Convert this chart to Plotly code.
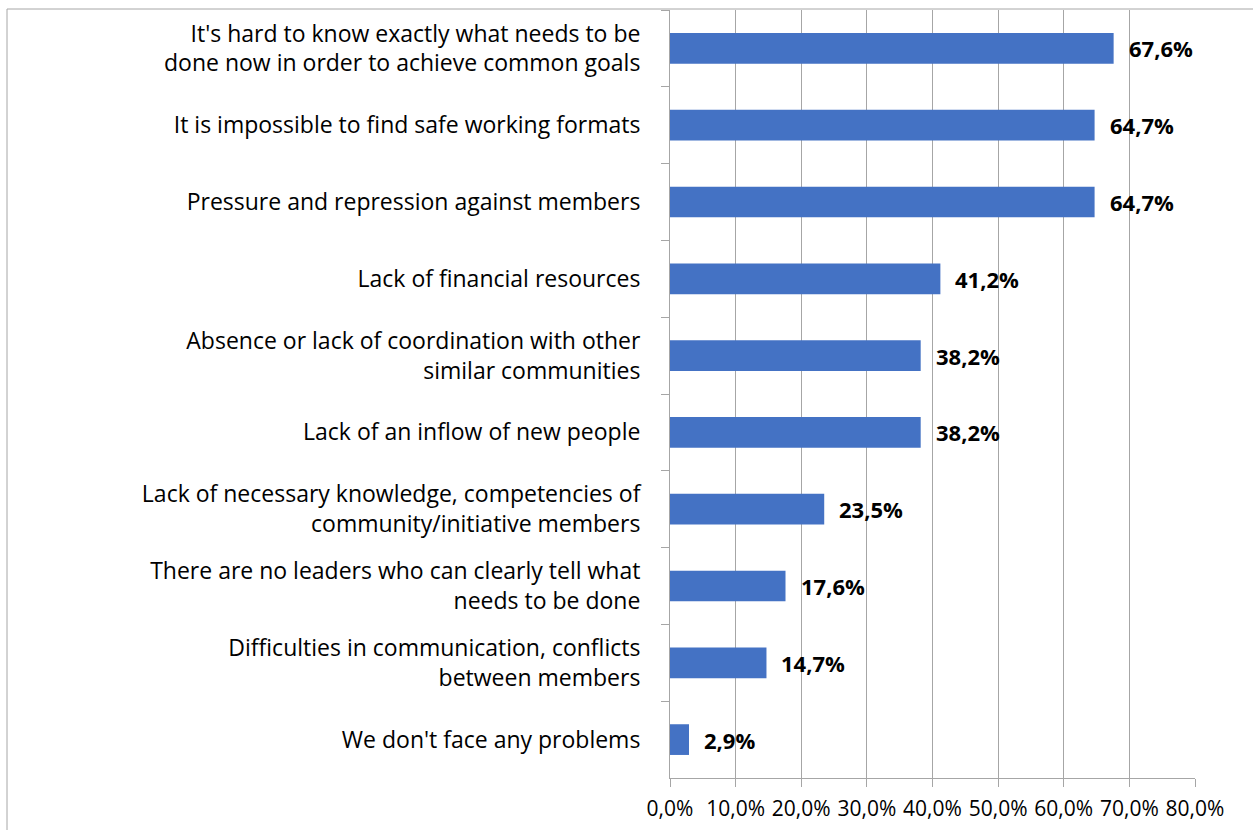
import plotly.graph_objects as go

categories = [
    "It's hard to know exactly what needs to be<br>done now in order to achieve common goals",
    "It is impossible to find safe working formats",
    "Pressure and repression against members",
    "Lack of financial resources",
    "Absence or lack of coordination with other<br>similar communities",
    "Lack of an inflow of new people",
    "Lack of necessary knowledge, competencies of<br>community/initiative members",
    "There are no leaders who can clearly tell what<br>needs to be done",
    "Difficulties in communication, conflicts<br>between members",
    "We don't face any problems",
]
values = [0.676, 0.647, 0.647, 0.412, 0.382, 0.382, 0.235, 0.176, 0.147, 0.029]
value_labels = ["67,6%", "64,7%", "64,7%", "41,2%", "38,2%", "38,2%", "23,5%", "17,6%", "14,7%", "2,9%"]

FONT = "Open Sans"

fig = go.Figure(
    go.Bar(
        x=values,
        y=categories,
        orientation="h",
        marker=dict(color="#4472C4", line=dict(width=0)),
        width=0.4,
        hoverinfo="skip",
    )
)

for v, c, t in zip(values, categories, value_labels):
    fig.add_annotation(
        x=v, y=c, text=f"<b>{t}</b>", showarrow=False,
        xanchor="left", xshift=13, yshift=0,
        font=dict(family=FONT, size=22, color="#000000"),
    )

# outer chart frame
fig.add_shape(
    type="rect", xref="paper", yref="paper",
    x0=-670 / 525 + 7 / 525, x1=1.5, y0=-0.5, y1=1 + 1 / 768,
    line=dict(color="#A6A6A6", width=1), fillcolor="rgba(0,0,0,0)", layer="below",
)

fig.update_layout(
    width=1253, height=830,
    margin=dict(l=670, r=58, t=10, b=52, autoexpand=False),
    paper_bgcolor="white", plot_bgcolor="white",
    separators=", ",
    showlegend=False,
    font=dict(family=FONT, size=23, color="#000000"),
    xaxis=dict(
        range=[0, 0.8], dtick=0.1, tickformat=".1%",
        showgrid=True, gridcolor="#A6A6A6", gridwidth=1,
        showline=True, linecolor="#A6A6A6", linewidth=1,
        ticks="outside", ticklen=8, tickcolor="#A6A6A6",
        zeroline=False, fixedrange=True, automargin=False,
        tickfont=dict(family=FONT, size=21, color="#000000"),
        ticklabelstandoff=4,
    ),
    yaxis=dict(
        autorange="reversed", type="category",
        showgrid=False, showline=True, linecolor="#A6A6A6", linewidth=1,
        ticks="outside", ticklen=8, tickcolor="#A6A6A6", tickson="boundaries",
        tickfont=dict(family=FONT, size=23, color="#000000"),
        ticklabelstandoff=24, fixedrange=True, automargin=False,
    ),
)

fig.write_html("out.html")
